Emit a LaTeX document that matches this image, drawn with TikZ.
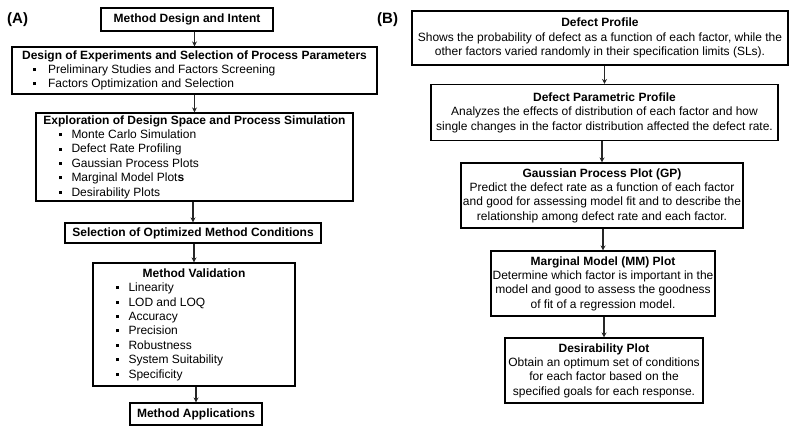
\documentclass[tikz,border=0pt]{standalone}
\usepackage{fontspec}
\setmainfont{Liberation Sans}
\usetikzlibrary{arrows.meta}
\newcommand\bitem[2][9pt]{\rule[2.4pt]{3pt}{3pt}\hspace{#1}#2\par}
\begin{document}
\begin{tikzpicture}[x=1pt,y=-1pt,
  box/.style={draw=black, line width=1.1pt, inner sep=0pt, align=center,
    font=\fontsize{12}{14.4}\selectfont, text=black},
  arr/.style={draw=black!85, line width=1.1pt, -{Stealth[length=5pt,width=5pt]}},
  tag/.style={font=\fontsize{15}{18}\selectfont\bfseries, anchor=base west, inner sep=0pt}]
\useasboundingbox (0,0) rectangle (808,428);
% panel labels
\node[tag] (la) at (7,23.5) {(A)};
\node[tag] (lb) at (377,24) {(B)};
% ---------- panel A ----------
\node[box, minimum width=172pt, minimum height=23pt] (a1) at (187,19.5)
  {\textbf{Method Design and Intent}};
\node[box, minimum height=47pt] (a2) at (194.5,70.5)
  {\parbox{365pt}{\fontsize{12}{14}\selectfont
   {\centering\textbf{Design of Experiments and Selection of Process Parameters}\par}
   \raggedright\leftskip=21pt
   \bitem[12pt]{Preliminary Studies and Factors Screening}
   \bitem[12pt]{Factors Optimization and Selection}}};
\node[box, minimum height=88pt] (a3) at (194.5,157)
  {\parbox{317pt}{\fontsize{12}{14.4}\selectfont
   {\centering\textbf{Exploration of Design Space and Process Simulation}\par}
   \raggedright\leftskip=22.5pt
   \bitem[10pt]{Monte Carlo Simulation}
   \bitem[10pt]{Defect Rate Profiling}
   \bitem[10pt]{Gaussian Process Plots}
   \bitem[10pt]{Marginal Model Plot\textbf{s}}
   \bitem[10pt]{Desirability Plots}}};
\node[box, minimum width=256pt, minimum height=20pt] (a4) at (193,233)
  {\textbf{Selection of Optimized Method Conditions}};
\node[box, minimum height=123pt] (a5) at (194,324.5)
  {\parbox{202pt}{\fontsize{12}{14.4}\selectfont
   {\centering\textbf{Method Validation}\par}
   \raggedright\leftskip=23pt
   \bitem[9.5pt]{Linearity}
   \bitem[9.5pt]{LOD and LOQ}
   \bitem[9.5pt]{Accuracy}
   \bitem[9.5pt]{Precision}
   \bitem[9.5pt]{Robustness}
   \bitem[9.5pt]{System Suitability}
   \bitem[9.5pt]{Specificity}}};
\node[box, minimum width=132pt, minimum height=22pt] (a6) at (196,414)
  {\textbf{Method Applications}};
\draw[arr] (a1.south -| a2.north) -- (a2.north);
\draw[arr] (a2.south -| a3.north) -- (a3.north);
\draw[arr] (a3.south -| a4.north) -- (a4.north);
\draw[arr] (a4.south -| a5.north) -- (a5.north);
\draw[arr] (a5.south -| a6.north) -- (a6.north);
% ---------- panel B ----------
\node[box, minimum width=376pt, minimum height=54pt] (b1) at (600,38)
  {\textbf{Defect Profile}\\
   Shows the probability of defect as a function of each factor, while the\\
   other factors varied randomly in their specification limits (SLs).};
\node[box, minimum width=347pt, minimum height=56pt] (b2) at (604.5,112.5)
  {\textbf{Defect Parametric Profile}\\
   Analyzes the effects of distribution of each factor and how\\
   single changes in the factor distribution affected the defect rate.};
\node[box, minimum width=282pt, minimum height=65pt] (b3) at (602,195.5)
  {\textbf{Gaussian Process Plot (GP)}\\
   Predict the defect rate as a function of each factor\\
   and good for assessing model fit and to describe the\\
   relationship among defect rate and each factor.};
\node[box, minimum width=224pt, minimum height=65pt] (b4) at (603,283.5)
  {\textbf{Marginal Model (MM) Plot}\\
   Determine which factor is important in the\\
   model and good to assess the goodness\\
   of fit of a regression model.};
\node[box, minimum width=198pt, minimum height=65pt] (b5) at (604,370.5)
  {\textbf{Desirability Plot}\\
   Obtain an optimum set of conditions\\
   for each factor based on the\\
   specified goals for each response.};
\draw[arr] (b1.south -| b2.north) -- (b2.north);
\draw[arr] (b2.south -| b3.north) -- (b3.north);
\draw[arr] (b3.south -| b4.north) -- (b4.north);
\draw[arr] (b4.south -| b5.north) -- (b5.north);
\end{tikzpicture}
\end{document}
